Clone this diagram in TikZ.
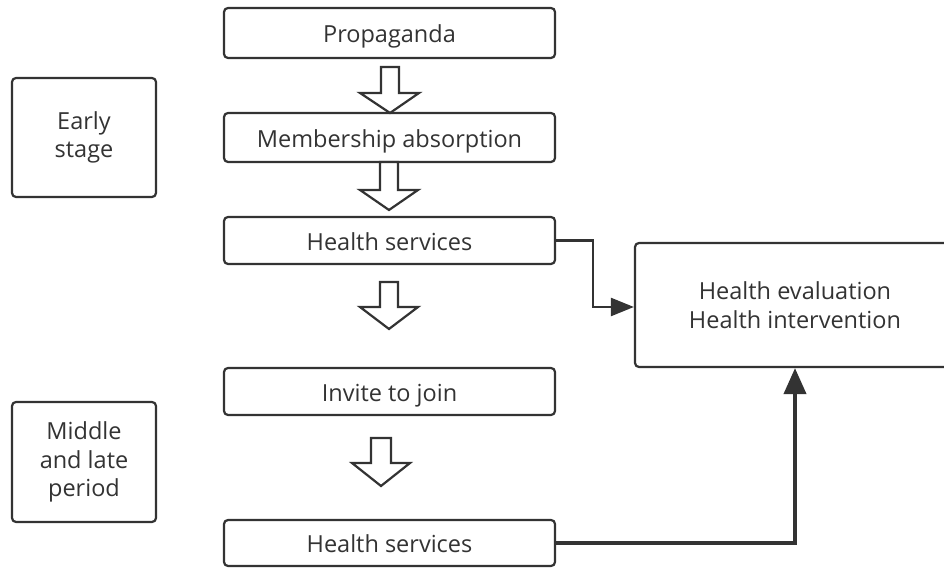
\documentclass[tikz,border=0pt]{standalone}
\usepackage{fontspec}
\setmainfont{Open Sans}
\usetikzlibrary{arrows.meta}
\definecolor{ink}{HTML}{333333}
\tikzset{
  box/.style={draw=ink, line width=2.2pt, rounded corners=4pt, text=ink,
    font=\fontsize{23.5}{28.5}\selectfont, align=center, inner sep=0pt},
  flow/.style={box, minimum width=331pt, text height=24pt, text depth=4pt},
  stagebox/.style={box, minimum width=144pt},
  hollow/.style={draw=ink, line width=2.2pt, fill=white, line join=miter},
  conn/.style={draw=ink, line width=2.4pt, -{Triangle[length=23pt,width=18pt]}},
  connthick/.style={draw=ink, line width=4pt, -{Triangle[length=26pt,width=22pt]}}
}
\begin{document}
\begin{tikzpicture}[x=1pt,y=1pt]
\useasboundingbox (0,0) rectangle (944,567);
\clip (0,0) rectangle (944,567);
\node[flow, minimum height=50pt] (prop) at (389.5,534) {Propaganda};
\node[flow, minimum height=49pt] (memb) at (389.5,429.5) {Membership absorption};
\node[flow, minimum height=47pt] (hs1) at (389.5,326.5) {Health services};
\node[flow, minimum height=47pt] (inv) at (389.5,175.5) {Invite to join};
\node[flow, minimum height=46pt] (hs2) at (389.5,24) {Health services};
\node[stagebox, minimum height=119pt] (early) at (84,429.5) {Early\\stage};
\node[stagebox, minimum height=120pt] (mid) at (84,105) {Middle\\and late\\period};
\node[box, minimum width=320pt, minimum height=124pt] (eval) at (795,262) {Health evaluation\\Health intervention};
% hollow block arrows
\draw[hollow] (381,500) -- (399,500) -- (399,474) -- (419,474) -- (390,454) -- (360,474) -- (381,474) -- cycle;
\draw[hollow] (380,405) -- (398,405) -- (398,377) -- (418,377) -- (389,357) -- (360,377) -- (380,377) -- cycle;
\draw[hollow] (380,285) -- (398,285) -- (398,260) -- (418,260) -- (389,238) -- (360,260) -- (380,260) -- cycle;
\draw[hollow] (371,129) -- (391,129) -- (391,104) -- (410,104) -- (381,81) -- (352,104) -- (371,104) -- cycle;
% connectors
\coordinate (bend) at (593,260);
\draw[conn] (hs1.east) -| (bend) -- (eval.west |- bend);
\draw[connthick] (hs2.east) -| (eval.south);
\end{tikzpicture}
\end{document}
